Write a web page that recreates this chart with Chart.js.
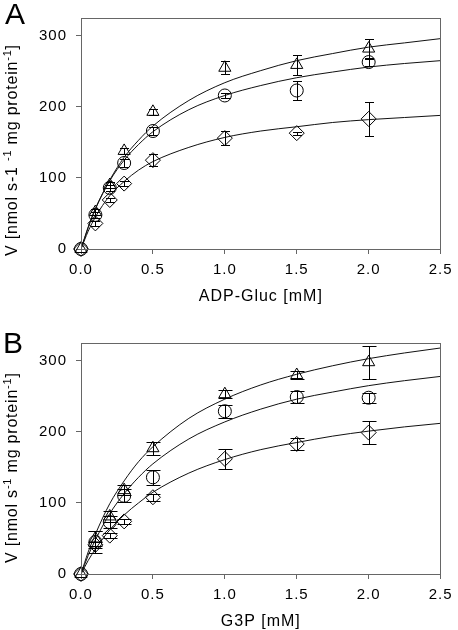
<!DOCTYPE html>
<html>
<head>
<meta charset="utf-8">
<script src="https://cdn.jsdelivr.net/npm/chart.js@4.4.1/dist/chart.umd.min.js"></script>
<style>
  html, body { margin: 0; padding: 0; background: #fff; overflow: hidden; }
  .panel { position: absolute; left: 0; width: 458px; height: 315px; }
  #panelA { top: 0; }
  #panelB { top: 325px; }
</style>
</head>
<body>
<div class="panel" id="panelA"><canvas id="chartA" width="458" height="315"></canvas></div>
<div class="panel" id="panelB"><canvas id="chartB" width="458" height="315"></canvas></div>
<script>
// measured substrate concentrations (mM)
const conc = [0, 0.1, 0.2, 0.3, 0.5, 1.0, 1.5, 2.0];

// panel A - ADP-Gluc
const triangleA = [0, 52, 90, 138, 193, 255, 259, 282];
const triangleAErr = [0, 4, 4, 4, 4, 9, 14, 13];
const circleA = [0, 48, 86, 121, 166, 216, 223, 263];
const circleAErr = [0, 4, 4, 5, 5, 3, 14, 5];
const diamondA = [0, 36, 69, 92, 125, 156, 163, 183];
const diamondAErr = [0, 3, 3, 4, 8, 10, 2, 24];

// panel B - G3P
const triangleB = [0, 50, 81, 118, 177, 253, 280, 298];
const triangleBErr = [0, 10, 8, 7, 9, 6, 5, 23];
const circleB = [0, 45, 73, 110, 136, 229, 249, 248];
const circleBErr = [0, 16, 8, 9, 11, 9, 9, 7];
const diamondB = [0, 41, 54, 74, 108, 162, 183, 199];
const diamondBErr = [0, 4, 4, 4, 5, 14, 9, 16];

// fitted curves
const fitConc = [0, 0.05, 0.1, 0.2, 0.3, 0.4, 0.5, 0.75, 1.0, 1.25, 1.5, 1.75, 2.0, 2.25, 2.5];
const triangleAFit = [0, 30, 56, 97, 129, 153, 173, 209, 234, 251, 265, 275, 284, 290, 296];
const circleAFit = [0, 31, 57, 96, 125, 147, 165, 196, 216, 230, 241, 249, 256, 261, 265];
const diamondAFit = [0, 25, 45, 75, 95, 111, 123, 143, 157, 166, 172, 178, 182, 185, 188];
const triangleBFit = [0, 31, 56, 99, 131, 158, 179, 219, 246, 266, 281, 293, 303, 311, 318];
const circleBFit = [0, 26, 48, 85, 113, 136, 155, 190, 214, 232, 246, 256, 265, 272, 278];
const diamondBFit = [0, 19, 35, 62, 83, 100, 115, 142, 161, 175, 185, 194, 201, 207, 212];

// axis ticks
const xTicks = [0, 0.5, 1.0, 1.5, 2.0, 2.5];
const yTicks = [0, 100, 200, 300];

const FONT = "'Liberation Sans', Arial, sans-serif";

function pts(xs, ys) {
  return xs.map((x, i) => ({ x: x, y: ys[i] }));
}

const framePlugin = {
  id: 'frame',
  beforeDraw(chart) {
    chart.ctx.letterSpacing = '1px';
  },
  afterDatasetsDraw(chart) {
    const a = chart.chartArea;
    const ctx = chart.ctx;
    ctx.save();
    ctx.strokeStyle = '#666';
    ctx.lineWidth = 1;
    ctx.strokeRect(Math.round(a.left) + 0.5, Math.round(a.top) + 0.5,
      Math.round(a.right - a.left) - 1, Math.round(a.bottom - a.top));
    ctx.restore();
  }
};

const errorBarPlugin = {
  id: 'errorBars',
  afterDatasetsDraw(chart, args, opts) {
    const ctx = chart.ctx;
    const xs = chart.scales.x, ys = chart.scales.y;
    ctx.save();
    ctx.strokeStyle = '#000';
    ctx.lineWidth = 1;
    chart.data.datasets.forEach(ds => {
      if (!ds.errors) return;
      ds.data.forEach((p, i) => {
        const e = ds.errors[i];
        if (!e) return;
        const px = Math.round(xs.getPixelForValue(p.x)) + 0.5;
        const y1 = Math.round(ys.getPixelForValue(p.y + e)) + 0.5;
        const y2 = Math.round(ys.getPixelForValue(p.y - e)) + 0.5;
        const c = opts.cap;
        ctx.beginPath();
        ctx.moveTo(px, y1); ctx.lineTo(px, y2);
        ctx.moveTo(px - c, y1); ctx.lineTo(px + c, y1);
        ctx.moveTo(px - c, y2); ctx.lineTo(px + c, y2);
        ctx.stroke();
      });
    });
    ctx.restore();
  }
};

const labelPlugin = {
  id: 'labels',
  afterDraw(chart, args, opts) {
    const ctx = chart.ctx;
    ctx.save();
    ctx.fillStyle = '#000';
    ctx.letterSpacing = '0px';
    ctx.textAlign = 'left';
    ctx.textBaseline = 'alphabetic';
    ctx.font = '30px ' + FONT;
    ctx.fillText(opts.letter, opts.letterX, opts.letterY);

    ctx.translate(opts.titleX, opts.titleY);
    ctx.rotate(-Math.PI / 2);
    ctx.letterSpacing = '0.8px';
    let cx = 0;
    opts.yTitle.forEach(part => {
      ctx.font = (part.sup ? 11 : 16) + 'px ' + FONT;
      ctx.fillText(part.t, cx, part.sup ? -6 : 0);
      cx += ctx.measureText(part.t).width;
    });
    ctx.restore();
  }
};

function pointSet(data, err, style, radius) {
  return {
    type: 'scatter',
    data: pts(conc, data),
    errors: err,
    pointStyle: style,
    pointRadius: radius,
    pointBorderColor: '#000',
    pointBackgroundColor: 'rgba(0,0,0,0)',
    pointBorderWidth: 1,
    showLine: false,
    clip: false
  };
}

function fitSet(data) {
  return {
    type: 'line',
    data: pts(fitConc, data),
    borderColor: '#111',
    borderWidth: 1,
    pointRadius: 0,
    fill: false,
    cubicInterpolationMode: 'monotone'
  };
}

function makeChart(id, cfg) {
  const ctx = document.getElementById(id).getContext('2d');
  return new Chart(ctx, {
    type: 'scatter',
    data: {
      datasets: [
        fitSet(cfg.fits[0]), fitSet(cfg.fits[1]), fitSet(cfg.fits[2]),
        pointSet(cfg.tri, cfg.triErr, 'triangle', 7),
        pointSet(cfg.circ, cfg.circErr, 'circle', 6.5),
        pointSet(cfg.dia, cfg.diaErr, 'rectRot', 7.5)
      ]
    },
    options: {
      responsive: false,
      animation: false,
      events: [],
      layout: { padding: { left: 0, top: cfg.top, right: cfg.right, bottom: 0 } },
      plugins: {
        legend: { display: false },
        tooltip: { enabled: false },
        errorBars: { cap: cfg.cap },
        labels: {
          letter: cfg.letter, letterX: cfg.letterX, letterY: cfg.letterY,
          titleX: 17, titleY: cfg.titleY, yTitle: cfg.yTitle
        }
      },
      scales: {
        x: {
          type: 'linear',
          min: 0,
          max: 2.5,
          afterBuildTicks: s => { s.ticks = xTicks.map(v => ({ value: v })); },
          afterFit: s => { s.height = 66; },
          grid: { drawOnChartArea: false, tickLength: 5, color: '#666' },
          border: { color: '#666' },
          ticks: {
            padding: 7,
            color: '#000',
            font: { family: FONT, size: 15 },
            maxRotation: 0,
            callback: v => Number(v).toFixed(1)
          },
          title: {
            display: true,
            text: cfg.xTitle,
            color: '#000',
            font: { family: FONT, size: 16 },
            padding: { top: 0, bottom: 9 }
          }
        },
        y: {
          type: 'linear',
          min: 0,
          max: 325,
          afterBuildTicks: s => { s.ticks = yTicks.map(v => ({ value: v })); },
          afterFit: s => { s.width = 81; },
          grid: { drawOnChartArea: false, tickLength: 5, color: '#666' },
          border: { color: '#666' },
          ticks: {
            padding: 9,
            color: '#000',
            font: { family: FONT, size: 15 },
            callback: v => String(v)
          }
        }
      }
    },
    plugins: [framePlugin, errorBarPlugin, labelPlugin]
  });
}

makeChart('chartA', {
  top: 7, right: 15, cap: 4.5,
  letter: 'A', letterX: 5, letterY: 24, titleY: 256,
  xTitle: 'ADP-Gluc [mM]',
  yTitle: [{ t: 'V [nmol s-1 ' }, { t: '-1', sup: true }, { t: ' mg protein' }, { t: '-1', sup: true }, { t: ']' }],
  tri: triangleA, triErr: triangleAErr,
  circ: circleA, circErr: circleAErr,
  dia: diamondA, diaErr: diamondAErr,
  fits: [triangleAFit, circleAFit, diamondAFit]
});

makeChart('chartB', {
  top: 8, right: 13, cap: 7,
  letter: 'B', letterX: 3, letterY: 28, titleY: 238,
  xTitle: 'G3P [mM]',
  yTitle: [{ t: 'V [nmol s' }, { t: '-1', sup: true }, { t: ' mg protein' }, { t: '-1', sup: true }, { t: ']' }],
  tri: triangleB, triErr: triangleBErr,
  circ: circleB, circErr: circleBErr,
  dia: diamondB, diaErr: diamondBErr,
  fits: [triangleBFit, circleBFit, diamondBFit]
});
</script>
</body>
</html>
